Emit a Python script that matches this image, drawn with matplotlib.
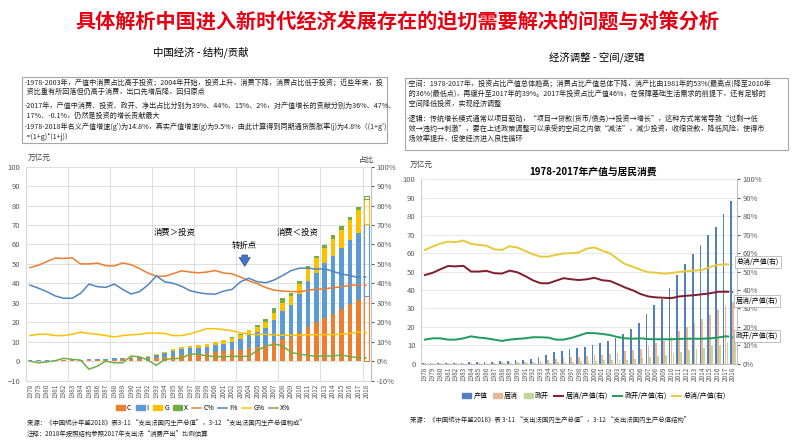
import numpy as np
import matplotlib
matplotlib.use("Agg")
import matplotlib.pyplot as plt
from matplotlib.patches import Rectangle, Patch
from matplotlib.lines import Line2D
from matplotlib.ticker import FuncFormatter

plt.rcParams['font.family'] = ['Noto Sans CJK SC', 'DejaVu Sans']

W, H = 794, 447

years = [str(y) for y in range(1978, 2019)]

# 左图：支出法构成（万亿元）
cons_c = [0.18, 0.20, 0.24, 0.26, 0.29, 0.32, 0.37, 0.46, 0.52, 0.59, 0.74, 0.86, 0.94, 1.05,
          1.23, 1.56, 2.12, 2.76, 3.33, 3.65, 3.87, 4.15, 4.67, 5.02, 5.46, 5.94, 6.68, 7.45,
          8.29, 9.86, 11.48, 12.49, 14.67, 17.74, 19.93, 22.10, 24.40, 26.70, 29.25, 31.30, 33.50]
invest_i = [0.14, 0.15, 0.16, 0.16, 0.17, 0.19, 0.25, 0.36, 0.40, 0.46, 0.60, 0.63, 0.65, 0.79,
            1.06, 1.56, 1.98, 2.45, 2.76, 2.89, 3.00, 3.13, 3.45, 3.99, 4.49, 5.61, 6.89, 7.64,
            8.84, 11.26, 14.04, 16.23, 19.69, 23.23, 25.54, 28.26, 29.87, 31.27, 33.00, 34.40, 37.00]
gov_g = [0.05, 0.06, 0.06, 0.06, 0.07, 0.08, 0.11, 0.13, 0.14, 0.16, 0.19, 0.22, 0.26, 0.30,
         0.39, 0.51, 0.69, 0.80, 0.94, 1.12, 1.30, 1.51, 1.66, 1.80, 1.90, 1.99, 2.22, 2.55,
         3.03, 3.73, 4.24, 4.64, 5.48, 6.59, 7.33, 8.06, 8.76, 9.51, 10.29, 11.90, 13.00]
netx_x = [0.00, 0.00, 0.00, 0.00, 0.01, 0.01, 0.00, -0.04, -0.03, 0.00, -0.01, -0.02, 0.05, 0.05,
          0.01, -0.08, 0.04, 0.07, 0.11, 0.29, 0.31, 0.23, 0.24, 0.25, 0.31, 0.30, 0.42, 1.03,
          1.67, 2.38, 2.49, 1.57, 1.44, 1.46, 1.30, 1.55, 1.68, 2.23, 1.65, 1.44, 1.29]

# 占比（%）
c_pct = [48.1, 49.3, 51.2, 53.0, 52.8, 53.1, 50.0, 50.0, 50.4, 49.1, 48.9, 50.5, 49.6, 47.6,
         45.3, 43.7, 43.6, 45.0, 46.4, 45.8, 45.4, 45.8, 46.6, 45.3, 44.9, 43.2, 41.3, 39.8,
         37.8, 36.5, 36.0, 35.8, 35.6, 36.5, 36.9, 37.2, 37.7, 38.2, 39.0, 39.1, 38.9]
i_pct = [39.1, 37.5, 35.7, 33.5, 32.3, 32.3, 34.8, 39.6, 38.3, 37.9, 39.6, 36.9, 34.5, 35.7,
         39.1, 43.8, 40.8, 40.0, 38.5, 36.2, 35.2, 34.6, 34.4, 36.0, 36.9, 40.8, 42.6, 40.8,
         40.3, 41.7, 44.0, 46.5, 47.8, 47.8, 47.3, 47.5, 46.1, 44.8, 44.0, 43.0, 43.0]
g_pct = [13.1, 13.8, 13.8, 13.1, 13.1, 13.8, 14.9, 14.2, 13.8, 13.1, 12.4, 13.1, 13.5, 13.8,
         14.4, 14.4, 14.2, 13.1, 13.1, 14.0, 15.3, 16.7, 16.6, 16.2, 15.6, 14.5, 13.8, 13.6,
         13.8, 13.4, 13.3, 13.3, 13.3, 13.5, 13.6, 13.6, 13.6, 13.8, 14.2, 14.9, 14.5]
x_pct = [0.0, -0.9, -0.4, 0.2, 1.4, 0.9, 0.5, -4.2, -2.6, 0.0, -0.9, -0.9, 2.6, 2.2,
         0.5, -2.2, 0.9, 1.2, 1.5, 3.6, 3.6, 2.6, 2.4, 2.1, 2.6, 2.2, 2.6, 5.5,
         7.6, 8.8, 7.8, 4.5, 3.5, 3.0, 2.4, 2.6, 2.6, 3.2, 2.2, 1.8, 1.5]
tot_pct = [61.7, 63.5, 65.2, 66.2, 65.9, 66.8, 65.0, 64.4, 64.0, 62.1, 61.7, 63.7, 63.0, 61.2,
           59.4, 58.1, 58.1, 59.0, 59.8, 59.9, 60.4, 62.4, 63.1, 61.3, 59.9, 56.8, 54.0, 52.6,
           51.0, 49.6, 49.4, 48.8, 49.2, 49.8, 50.2, 50.5, 50.9, 52.5, 53.7, 53.9, 53.6]

# 右图：产值（万亿元）
gdp = [0.37, 0.41, 0.46, 0.49, 0.54, 0.60, 0.73, 0.91, 1.04, 1.21, 1.51, 1.70, 1.89, 2.20,
       2.72, 3.57, 4.86, 6.13, 7.18, 7.97, 8.52, 9.06, 10.03, 11.09, 12.17, 13.74, 16.18, 18.73,
       21.94, 27.02, 31.95, 34.91, 41.30, 48.10, 54.10, 59.50, 64.40, 69.80, 74.30, 81.20, 88.40]

title = '具体解析中国进入新时代经济发展存在的迫切需要解决的问题与对策分析'
left_notes = [
    '-1978-2003年，产值中消费占比高于投资；2004年开始，投资上升，消费下降，消费占比低于投资；近些年来，投',
    ' 资比重有所回落但仍高于消费，出口先增后降，回归原点',
    '-2017年，产值中消费、投资、政开、净出占比分别为39%、44%、15%、2%，对产值增长的贡献分别为36%、47%、',
    ' 17%、-0.1%，仍然是投资的增长贡献最大',
    "-1978-2018年名义产值增速(g')为14.8%，真实产值增速(g)为9.5%，由此计算得到同期通货膨胀率(j)为4.8%（(1+g')",
    ' =(1+g)*(1+j)）',
]
right_notes = [
    '-空间：1978-2017年，投资占比产值总体趋高；消费占比产值总体下降，消产比由1981年的53%(最高点)降至2010年',
    ' 的36%(最低点)，再缓升至2017年的39%。2017年投资占比产值46%，在保障基础生活需求的前提下，还有足够的',
    ' 空间降低投资，实现经济调整',
    '-逻辑：传统增长模式通常以项目驱动，“项目→贷款(货币/债务)→投资→增长”，这种方式常常导致“过剩→低',
    ' 效→违约→刺激”，要在上述政策调整可以承受的空间之内做“减法”，减少投资，收缩贷款，降低风险，使得市',
    ' 场效率提升，促使经济进入良性循环',
]

C_COL, I_COL, G_COL, X_COL = '#ED7D31', '#5B9BD5', '#FFC000', '#70AD47'
GRID = '#D9D9D9'
TICK = '#595959'


def fx(px):
    return px / W


def fy(py):
    return 1 - py / H


fig = plt.figure(figsize=(W / 100, H / 100), dpi=100)

fig.text(0.5, fy(22), title, color='#E60012', fontsize=14.5, ha='center', va='center',
         fontweight='bold')
fig.text(fx(201), fy(52), '中国经济 - 结构/贡献', fontsize=7.5, ha='center', va='center')
fig.text(fx(597), fy(57), '经济调整 - 空间/逻辑', fontsize=7.5, ha='center', va='center')

# 文字框
fig.add_artist(Rectangle((fx(22), fy(143)), fx(387 - 22), (143 - 77) / H, transform=fig.transFigure,
                         fill=False, ec='#A6A6A6', lw=0.8))
for txt, yy in zip(left_notes, [82, 92, 106, 115.5, 127, 136.5]):
    fig.text(fx(25), fy(yy), txt, fontsize=5.1, ha='left', va='center', color='#222222')
fig.add_artist(Rectangle((fx(405), fy(150)), fx(788 - 405), (150 - 78) / H, transform=fig.transFigure,
                         fill=False, ec='#A6A6A6', lw=0.8))
for txt, yy in zip(right_notes, [83.5, 93.5, 103.5, 118.5, 128.5, 138.5]):
    fig.text(fx(407), fy(yy), txt, fontsize=5.1, ha='left', va='center', color='#222222')

# ---------------- 左图 ----------------
x = np.arange(len(years))
C = np.array(cons_c)
I = np.array(invest_i)
G = np.array(gov_g)
X = np.array(netx_x)

ax1 = fig.add_axes([fx(25.8), fy(380.5), fx(345.2), 213.8 / H])
ax1.set_xlim(-0.5, len(years) - 0.5)
ax1.set_ylim(-10, 100)
bw = 0.55
n = len(years) - 1  # 2018 年为估算，空心
parts = [(C, 0, C_COL), (I, C, I_COL), (G, C + I, G_COL)]
for vals, bot, col in parts:
    bot = np.zeros_like(C) + bot
    ax1.bar(x[:n], vals[:n], bw, bottom=bot[:n], color=col, zorder=2)
    ax1.bar(x[n:], vals[n:], bw, bottom=bot[n:], facecolor='none', edgecolor=col, lw=0.8, zorder=2)
xb = np.where(X >= 0, C + I + G, 0)
ax1.bar(x[:n], X[:n], bw, bottom=xb[:n], color=X_COL, zorder=2)
ax1.bar(x[n:], X[n:], bw, bottom=xb[n:], facecolor='none', edgecolor=X_COL, lw=0.8, zorder=2)

ax1.set_yticks(range(-10, 101, 10))
ax1.set_xticks(x)
ax1.set_xticklabels(years, rotation=90, fontsize=4.6, color=TICK)
ax1.tick_params(axis='y', labelsize=5.5, colors=TICK, length=0, pad=4)
ax1.tick_params(axis='x', length=0, pad=2)
for v in range(-10, 101, 10):
    ax1.axhline(v, color=GRID, lw=0.6, zorder=0)
for k in range(5, 41, 5):
    ax1.axvline(k - 0.5, color=GRID, lw=0.6, zorder=0)
for s in ['top', 'right']:
    ax1.spines[s].set_visible(False)
ax1.spines['left'].set_color(GRID)
ax1.spines['bottom'].set_color(GRID)

ax1b = ax1.twinx()
ax1b.set_ylim(-10, 100)
ax1b.set_yticks(range(-10, 101, 10))
ax1b.yaxis.set_major_formatter(FuncFormatter(lambda v, p: f'{int(v)}%'))
ax1b.tick_params(axis='y', labelsize=5.5, colors=TICK, length=2, pad=2)
for s in ['top', 'left', 'bottom']:
    ax1b.spines[s].set_visible(False)
ax1b.spines['right'].set_color('#BFBFBF')
for vals, col in [(c_pct, C_COL), (i_pct, '#4F86C0'), (g_pct, G_COL), (x_pct, X_COL)]:
    ax1b.plot(x[:n], vals[:n], color=col, lw=1.1, zorder=3)
    ax1b.plot(x[n - 1:], vals[n - 1:], color=col, lw=1.1, ls=(0, (2, 1.5)), zorder=3)

ax1b.text(17.2, 66.4, '消费＞投资', fontsize=6, ha='center', va='center')
ax1b.text(31.8, 66.4, '消费＜投资', fontsize=6, ha='center', va='center')
ax1b.text(25.4, 59.7, '转折点', fontsize=6, ha='center', va='center')
ax1b.annotate('', xy=(25.5, 47.3), xytext=(25.5, 56.0),
              arrowprops=dict(arrowstyle='simple,head_width=0.9,head_length=0.7,tail_width=0.45',
                              fc='#4472C4', ec='#2F5597', lw=0.5, mutation_scale=9))
fig.text(fx(28), fy(158), '万亿元', fontsize=5.5, ha='left', va='center', color='#404040')
fig.text(fx(366), fy(160), '占比', fontsize=5.5, ha='center', va='center', color='#404040')

h1 = [Patch(color=c) for c in [C_COL, I_COL, G_COL, X_COL]] + \
     [Line2D([], [], color=c, lw=1.1) for c in [C_COL, '#4F86C0', G_COL, X_COL]]
fig.legend(h1, ['C', 'I', 'G', 'X', 'C%', 'I%', 'G%', 'X%'], loc='center',
           bbox_to_anchor=(fx(203), fy(408)), ncol=8, frameon=False, fontsize=5,
           handlelength=1.3, handleheight=0.6, columnspacing=0.6, handletextpad=0.3)
fig.text(fx(27), fy(423), '来源：《中国统计年鉴2018》表3-11 “支出法国内生产总值”，3-12 “支出法国内生产总值构成”',
         fontsize=4.6, ha='left', va='center', color='#222222')
fig.text(fx(27), fy(434), '注释：2018年按照结构参照2017年支出法“消费产出”比例估算',
         fontsize=4.6, ha='left', va='center', color='#222222')

# ---------------- 右图 ----------------
GDP_COL, HC_COL, GV_COL = '#4F81BD', '#E6B894', '#C4D79B'
TOT_L, HC_L, GV_L = '#E8C93A', '#7F1D2D', '#1F9A5A'

ax2 = fig.add_axes([fx(421), fy(363.8), fx(316), 184.5 / H])
ax2.set_xlim(-0.5, len(years) - 0.5)
ax2.set_ylim(0, 100)
w2 = 0.22
ax2.bar(x - 0.25, gdp, w2, color=GDP_COL, zorder=2)
ax2.bar(x, cons_c, w2, color=HC_COL, zorder=2)
ax2.bar(x + 0.25, gov_g, w2, color=GV_COL, zorder=2)
ax2.set_yticks(range(0, 101, 10))
ax2.set_xticks(x)
ax2.set_xticklabels(years, rotation=90, fontsize=4.6, color=TICK)
ax2.tick_params(axis='y', labelsize=5.5, colors=TICK, length=0, pad=4)
ax2.tick_params(axis='x', length=0, pad=2)
for v in range(10, 101, 10):
    ax2.axhline(v, color='#E4E0EC', lw=0.6, zorder=0)
for s in ['top', 'right']:
    ax2.spines[s].set_visible(False)
ax2.spines['left'].set_color('#D0D0D0')
ax2.spines['bottom'].set_color('#BFBFBF')

ax2b = ax2.twinx()
ax2b.set_ylim(0, 100)
ax2b.set_yticks(range(0, 101, 10))
ax2b.yaxis.set_major_formatter(FuncFormatter(lambda v, p: f'{int(v)}%'))
ax2b.tick_params(axis='y', labelsize=5.5, colors=TICK, length=2, pad=2)
for s in ['top', 'left', 'bottom']:
    ax2b.spines[s].set_visible(False)
ax2b.spines['right'].set_color('#BFBFBF')
for vals, col in [(tot_pct, TOT_L), (c_pct, HC_L), (g_pct, GV_L)]:
    ax2b.plot(x[:n], vals[:n], color=col, lw=1.4, zorder=3)
    ax2b.plot(x[n - 1:], vals[n - 1:], color=col, lw=1.4, ls=(0, (2, 1.5)), zorder=3)

box = dict(boxstyle='square,pad=0.25', fc='white', ec='#A6A6A6', lw=0.5)
fig.text(fx(758), fy(262), '总消/产值(右)', fontsize=5, ha='center', va='center', bbox=box)
fig.text(fx(757), fy(301), '居消/产值(右)', fontsize=5, ha='center', va='center', bbox=box)
fig.text(fx(757), fy(336), '政开/产值(右)', fontsize=5, ha='center', va='center', bbox=box)

fig.text(fx(593), fy(172), '1978-2017年产值与居民消费', fontsize=7, ha='center', va='center',
         fontweight='bold')
fig.text(fx(410), fy(165), '万亿元', fontsize=5.5, ha='left', va='center', color='#404040')

h2 = [Patch(color=c) for c in [GDP_COL, HC_COL, GV_COL]] + \
     [Line2D([], [], color=c, lw=1.4) for c in [HC_L, GV_L, TOT_L]]
fig.legend(h2, ['产值', '居消', '政开', '居消/产值(右)', '政开/产值(右)', '总消/产值(右)'],
           loc='center', bbox_to_anchor=(fx(594), fy(396)), ncol=6, frameon=False, fontsize=5,
           handlelength=1.3, handleheight=0.6, columnspacing=0.8, handletextpad=0.3)
fig.text(fx(410), fy(420), '来源：《中国统计年鉴2018》表 3-11 “支出法国内生产总值”，3-12 “支出法国内生产总值结构”',
         fontsize=4.6, ha='left', va='center', color='#222222')

fig.savefig('out.png', dpi=100)
